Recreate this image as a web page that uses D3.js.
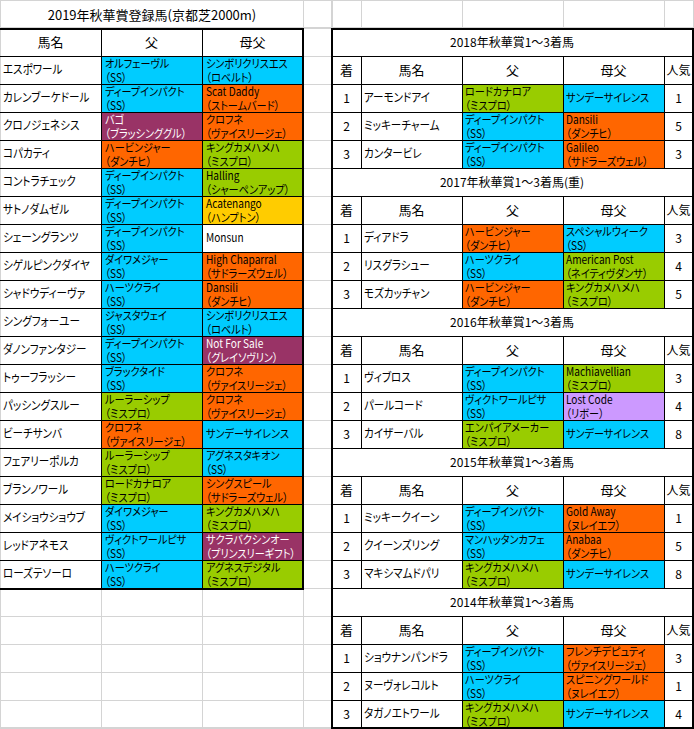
<!DOCTYPE html>
<html><head><meta charset="utf-8">
<script src="https://cdn.jsdelivr.net/npm/d3@7"></script>
<style>
html,body{margin:0;padding:0;background:#fff;}
svg text{font-family:"Noto Sans CJK JP","Noto Sans",sans-serif;font-feature-settings:"palt";}
</style></head>
<body><div id="chart"></div>
<script>
// ---------------- DATA ----------------
const leftTitle = "2019年秋華賞登録馬(京都芝2000m)";
const leftHeaders = ["馬名", "父", "母父"];
const horses = ["エスポワール","カレンブーケドール","クロノジェネシス","コパカティ","コントラチェック","サトノダムゼル","シェーングランツ","シゲルピンクダイヤ","シャドウディーヴァ","シングフォーユー","ダノンファンタジー","トゥーフラッシー","パッシングスルー","ビーチサンバ","フェアリーポルカ","ブランノワール","メイショウショウブ","レッドアネモス","ローズテソーロ"];
const sires = ["オルフェーヴル","ディープインパクト","バゴ","ハービンジャー","ディープインパクト","ディープインパクト","ディープインパクト","ダイワメジャー","ハーツクライ","ジャスタウェイ","ディープインパクト","ブラックタイド","ルーラーシップ","クロフネ","ルーラーシップ","ロードカナロア","ダイワメジャー","ヴィクトワールピサ","ハーツクライ"];
const sireLines = ["SS","SS","ブラッシンググル","ダンチヒ","SS","SS","SS","SS","SS","SS","SS","SS","ミスプロ","ヴァイスリージェ","ミスプロ","ミスプロ","SS","SS","SS"];
const sireGroups = ["ss","ss","ns","nd","ss","ss","ss","ss","ss","ss","ss","ss","mp","nd","mp","mp","ss","ss","ss"];
const damSires = ["シンボリクリスエス","Scat Daddy","クロフネ","キングカメハメハ","Halling","Acatenango","Monsun","High Chaparral","Dansili","シンボリクリスエス","Not For Sale","クロフネ","クロフネ","サンデーサイレンス","アグネスタキオン","シングスピール","キングカメハメハ","サクラバクシンオー","アグネスデジタル"];
const damSireLines = ["ロベルト","ストームバード","ヴァイスリージェ","ミスプロ","シャーペンアップ","ハンプトン","","サドラーズウェル","ダンチヒ","ロベルト","グレイソヴリン","ヴァイスリージェ","ヴァイスリージェ","","SS","サドラーズウェル","ミスプロ","プリンスリーギフト","ミスプロ"];
const damSireGroups = ["ss","nd","nd","mp","mp","ht","none","nd","nd","ss","ns","nd","nd","ss","ss","nd","mp","ns","mp"];

const years = ["2018","2017","2016","2015","2014"];
const yearTitles = ["2018年秋華賞1～3着馬","2017年秋華賞1～3着馬(重)","2016年秋華賞1～3着馬","2015年秋華賞1～3着馬","2014年秋華賞1～3着馬"];
const rightHeaders = ["着","馬名","父","母父","人気"];
const placings = ["1","2","3"];
const winners = [["アーモンドアイ","ミッキーチャーム","カンタービレ"],["ディアドラ","リスグラシュー","モズカッチャン"],["ヴィブロス","パールコード","カイザーバル"],["ミッキークイーン","クイーンズリング","マキシマムドパリ"],["ショウナンパンドラ","ヌーヴォレコルト","タガノエトワール"]];
const winnerSires = [["ロードカナロア","ディープインパクト","ディープインパクト"],["ハービンジャー","ハーツクライ","ハービンジャー"],["ディープインパクト","ヴィクトワールピサ","エンパイアメーカー"],["ディープインパクト","マンハッタンカフェ","キングカメハメハ"],["ディープインパクト","ハーツクライ","キングカメハメハ"]];
const winnerSireLines = [["ミスプロ","SS","SS"],["ダンチヒ","SS","ダンチヒ"],["SS","SS","ミスプロ"],["SS","SS","ミスプロ"],["SS","SS","ミスプロ"]];
const winnerSireGroups = [["mp","ss","ss"],["nd","ss","nd"],["ss","ss","mp"],["ss","ss","mp"],["ss","ss","mp"]];
const winnerDamSires = [["サンデーサイレンス","Dansili","Galileo"],["スペシャルウィーク","American Post","キングカメハメハ"],["Machiavellian","Lost Code","サンデーサイレンス"],["Gold Away","Anabaa","サンデーサイレンス"],["フレンチデピュティ","スピニングワールド","サンデーサイレンス"]];
const winnerDamSireLines = [["","ダンチヒ","サドラーズウェル"],["SS","ネイティヴダンサ","ミスプロ"],["ミスプロ","リボー",""],["ヌレイエフ","ダンチヒ",""],["ヴァイスリージェ","ヌレイエフ",""]];
const winnerDamSireGroups = [["ss","nd","nd"],["ss","mp","mp"],["mp","rb","ss"],["nd","nd","ss"],["nd","nd","ss"]];
const popularity = [["1","5","3"],["3","4","5"],["3","4","8"],["1","5","8"],["3","1","4"]];

const groupKeys = ["ss","mp","nd","ns","ht","rb","none"];

// ---------------- LAYOUT / STYLE ----------------
const W = 694, H = 729, RH = 28;
const fillScale = d3.scaleOrdinal().domain(groupKeys)
  .range(["#00CCFF","#99CC00","#FF6600","#993366","#FFCC00","#CC99FF","#FFFFFF"]);
const textScale = d3.scaleOrdinal().domain(groupKeys)
  .range(["#000","#000","#000","#fff","#000","#000","#000"]);
const GRID = "#d4d4d4";
const FS = 11.5;
const SX = 0.88;

const svg = d3.select("#chart").append("svg").attr("width", W).attr("height", H)
  .style("display","block");

// Left table scales
const lx = d3.scaleBand().domain(leftHeaders).range([0, 303]);
const ly = d3.scaleBand().domain(d3.range(horses.length)).range([2*RH, 2*RH + horses.length*RH]);

// Right table scales
const rWidths = [29, 101, 101, 101, 29];
const rStarts = [332, ...d3.cumsum(rWidths).map(v => 332 + v)];
const rx = d3.scaleOrdinal().domain(rightHeaders).range(rStarts.slice(0,5));
const rw = d3.scaleOrdinal().domain(rightHeaders).range(rWidths);
const gy = d3.scaleBand().domain(years).range([RH, RH + years.length*5*RH]);

// ---------- background grid ----------
const grid = svg.append("g").attr("shape-rendering","crispEdges");
function hl(g, x1, x2, y, c, w){ g.append("line").attr("x1",x1).attr("x2",x2).attr("y1",y).attr("y2",y).attr("stroke",c||GRID).attr("stroke-width",w||1); }
function vl(g, x, y1, y2, c, w){ g.append("line").attr("x1",x).attr("x2",x).attr("y1",y1).attr("y2",y2).attr("stroke",c||GRID).attr("stroke-width",w||1); }
hl(grid, 0, W, 0.5);
hl(grid, 0, W, RH - 0.5);
vl(grid, 0.5, 0, H);
[303.5, 332.5, 361.5, 462.5, 563.5, 664.5, 693.5].forEach(x => vl(grid, x, 0, RH));
d3.range(1, 27).forEach(i => hl(grid, 303, 332, i*RH + 0.5));
vl(grid, 303.5, 0, H);
vl(grid, 331.5, 0, H);
const emptyTop = 2*RH + horses.length*RH;
d3.range(emptyTop, H, RH).forEach(y => hl(grid, 0, 332, y + 0.5));
hl(grid, 0, 332, H - 1.5);
[101.5, 202.5, 303.5].forEach(x => vl(grid, x, emptyTop, H));

// ---------- text helpers ----------
function cellText(g, x, y, lines, color, opts) {
  opts = opts || {};
  const anchor = opts.anchor || "start";
  const fs = opts.fs || FS;
  const sx = opts.sx || SX;
  const t = g.append("text").attr("fill", color).attr("font-size", fs).attr("text-anchor", anchor)
    .attr("transform", `translate(${x},${y}) scale(${sx},1)`);
  if (lines.length === 1) {
    t.append("tspan").attr("x", 0).attr("y", 18.5).text(lines[0]);
  } else {
    t.append("tspan").attr("x", 0).attr("y", 11.8).text(lines[0]);
    t.append("tspan").attr("x", 0).attr("y", 25.6).text(lines[1]);
  }
}
function lineLabel(name, line){ return line ? [name, "（" + line + "）"] : [name]; }

// ---------- LEFT TABLE ----------
const left = svg.append("g");
left.append("text").attr("x", 152).attr("y", 19.5).attr("text-anchor","middle")
  .attr("font-size", 13).attr("fill","#000").text(leftTitle);
leftHeaders.forEach(h => {
  left.append("text").attr("x", lx(h) + lx.bandwidth()/2).attr("y", RH + 19)
    .attr("text-anchor","middle").attr("font-size", 13).attr("fill","#000").text(h);
});
horses.forEach((name, i) => {
  const y = ly(i);
  left.append("rect").attr("x", lx("父")).attr("y", y).attr("width", lx.bandwidth()).attr("height", RH)
    .attr("fill", fillScale(sireGroups[i]));
  left.append("rect").attr("x", lx("母父")).attr("y", y).attr("width", lx.bandwidth()).attr("height", RH)
    .attr("fill", fillScale(damSireGroups[i]));
  cellText(left, 3, y, [name], "#000", {fs: 12});
  cellText(left, lx("父") + 4, y, lineLabel(sires[i], sireLines[i]), textScale(sireGroups[i]));
  cellText(left, lx("母父") + 4, y, lineLabel(damSires[i], damSireLines[i]), textScale(damSireGroups[i]));
});
const lb = svg.append("g").attr("shape-rendering","crispEdges");
d3.range(horses.length + 1).forEach(i => hl(lb, 0, 303, (i === 0 ? RH*2 : ly(i-1) + RH) + 0.5, "#000", 1));
[101.5, 202.5].forEach(x => vl(lb, x, RH, emptyTop, "#000", 1));
hl(lb, 0, 304, RH + 0.5, "#000", 2);
hl(lb, 0, 304, emptyTop + 0.5, "#000", 2);
vl(lb, 303, RH - 0.5, emptyTop + 1.5, "#000", 2);

// ---------- RIGHT TABLE ----------
const right = svg.append("g");
const rb = svg.append("g").attr("shape-rendering","crispEdges");
years.forEach((yr, g) => {
  const top = gy(yr);
  right.append("text").attr("x", 512).attr("y", top + 19).attr("text-anchor","middle")
    .attr("font-size", 12).attr("fill","#000").text(yearTitles[g]);
  rightHeaders.forEach(h => {
    right.append("text").attr("x", rx(h) + rw(h)/2).attr("y", top + RH + 19)
      .attr("text-anchor","middle").attr("font-size", h === "人気" ? 12 : 13).attr("fill","#000").text(h);
  });
  placings.forEach((p, k) => {
    const y = top + 2*RH + k*RH;
    right.append("rect").attr("x", rx("父")).attr("y", y).attr("width", rw("父")).attr("height", RH)
      .attr("fill", fillScale(winnerSireGroups[g][k]));
    right.append("rect").attr("x", rx("母父")).attr("y", y).attr("width", rw("母父")).attr("height", RH)
      .attr("fill", fillScale(winnerDamSireGroups[g][k]));
    cellText(right, rx("着") + rw("着")/2, y, [p], "#000", {anchor:"middle", fs: 12, sx: 1});
    cellText(right, rx("馬名") + 3, y, [winners[g][k]], "#000", {fs: 12});
    cellText(right, rx("父") + 3, y, lineLabel(winnerSires[g][k], winnerSireLines[g][k]), textScale(winnerSireGroups[g][k]));
    cellText(right, rx("母父") + 3, y, lineLabel(winnerDamSires[g][k], winnerDamSireLines[g][k]), textScale(winnerDamSireGroups[g][k]));
    cellText(right, rx("人気") + rw("人気")/2, y, [popularity[g][k]], "#000", {anchor:"middle", fs: 12, sx: 1});
  });
  d3.range(1, 5).forEach(r => hl(rb, 332, 693, top + r*RH + 0.5, "#000", 1));
  if (g > 0) hl(rb, 332, 693, top + 0.5, "#000", 1);
  rStarts.slice(1, 5).forEach(x => vl(rb, x + 0.5, top + RH, top + 5*RH, "#000", 1));
});
hl(rb, 331, 694, RH + 0.5, "#000", 2);
hl(rb, 331, 694, H - 1.5, "#000", 2);
vl(rb, 332, RH - 0.5, H - 0.5, "#000", 2);
vl(rb, 692.5, RH - 0.5, H - 0.5, "#000", 2);
</script></body></html>
